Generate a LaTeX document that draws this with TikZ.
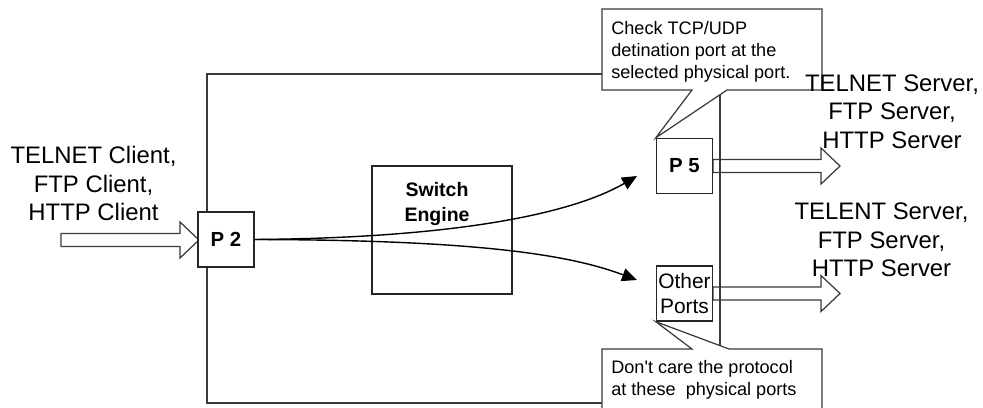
\documentclass[tikz,border=0pt]{standalone}
\usepackage{fontspec}
\setmainfont{Liberation Sans}
\usetikzlibrary{arrows.meta,positioning}
\definecolor{linegray}{HTML}{3A3A3A}

% hollow block arrow: tail point, total length (in px units)
\newcommand{\fatarrow}[2]{%
  \draw[fat] (#1) ++(0,-6.5) -- ++({#2-19},0) -- ++(0,-11.5)
    -- ++(19,18) -- ++(-19,18) -- ++(0,-11.5) -- ++({19-#2},0) -- cycle;}

\begin{document}
\begin{tikzpicture}[
  x=0.02cm, y=-0.02cm,
  frame/.style={draw=linegray, line width=0.9pt},
  port/.style={draw=black!85, fill=white, line width=0.8pt, inner sep=0pt,
               minimum width=1.12cm, minimum height=1.1cm, align=center},
  bold/.style={font=\fontsize{11.6}{14.2}\selectfont\bfseries},
  plain/.style={font=\fontsize{11.9}{14.2}\selectfont},
  big/.style={align=center, inner sep=0pt,
              font=\fontsize{13.6}{16.3}\selectfont},
  note/.style={align=left, inner sep=0pt,
               font=\fontsize{10.3}{12.5}\selectfont},
  callout/.style={draw=linegray, fill=white, line width=0.7pt},
  fat/.style={draw=linegray, fill=white, line width=0.7pt},
  flow/.style={-{Triangle[length=8.5pt, width=7.5pt]}, black, line width=0.8pt},
]
\useasboundingbox (0,0) rectangle (983,408);

% ---------------- block arrows ------------------------------------------
\coordinate (in0) at (61,240);
\coordinate (out1) at (713,166);
\coordinate (out2) at (713,293.5);
\foreach \src/\len in {in0/138, out1/127, out2/127} {
  \fatarrow{\src}{\len}
}

% ---------------- switch frame ------------------------------------------
\draw[frame] (207,74) rectangle (720,403);

% ---------------- ports and engine --------------------------------------
\node[port, bold] (p2) at (226,239.5) {P 2};
\node[port, bold] (p5) at (684.5,166) {P 5};
\node[port, plain] (other) at (684.5,293.5) {Other\\Ports};
\node[draw=black!85, line width=0.8pt, minimum width=2.8cm,
      minimum height=2.56cm] (engine) at (442,230) {};
\node[bold, align=center, inner sep=0pt, font=\fontsize{11.1}{14.2}\selectfont\bfseries]
  (enginelbl) at (437,204) {Switch\\Engine};

% ---------------- forwarding paths --------------------------------------
\coordinate (tipA) at (637,176);
\coordinate (tipB) at (637,280);
\draw[flow] (p2.east) .. controls (450,238) and (570,215) .. (tipA);
\draw[flow] (p2.east) .. controls (480,240) and (570,255) .. (tipB);

% ---------------- callouts ----------------------------------------------
\draw[callout] (602,9) -- (822,9) -- (822,90) -- (727,90) -- (p5.north west)
  -- (692,90) -- (602,90) -- cycle;
\draw[callout] (602,349) -- (692,349) -- (other.south west) -- (729,349)
  -- (822,349) -- (822,412) -- (602,412) -- cycle;
\node[note, anchor=west] (check) at (611,52)
  {Check TCP/UDP\\detination port at the\\selected physical port.};
\node[note, anchor=west] (dontcare) at (611,380)
  {Don\textquotesingle t care the protocol\\at these~ physical ports};

% ---------------- clients and servers -----------------------------------
\node[big] (clients) at (93.5,183.5) {TELNET Client,\\FTP Client,\\HTTP Client};
\node[big] (servers1) at (892,111.5) {TELNET Server,\\FTP Server,\\HTTP Server};
\node[big] (servers2) at (881.5,240) {TELENT Server,\\FTP Server,\\HTTP Server};

\end{tikzpicture}
\end{document}
